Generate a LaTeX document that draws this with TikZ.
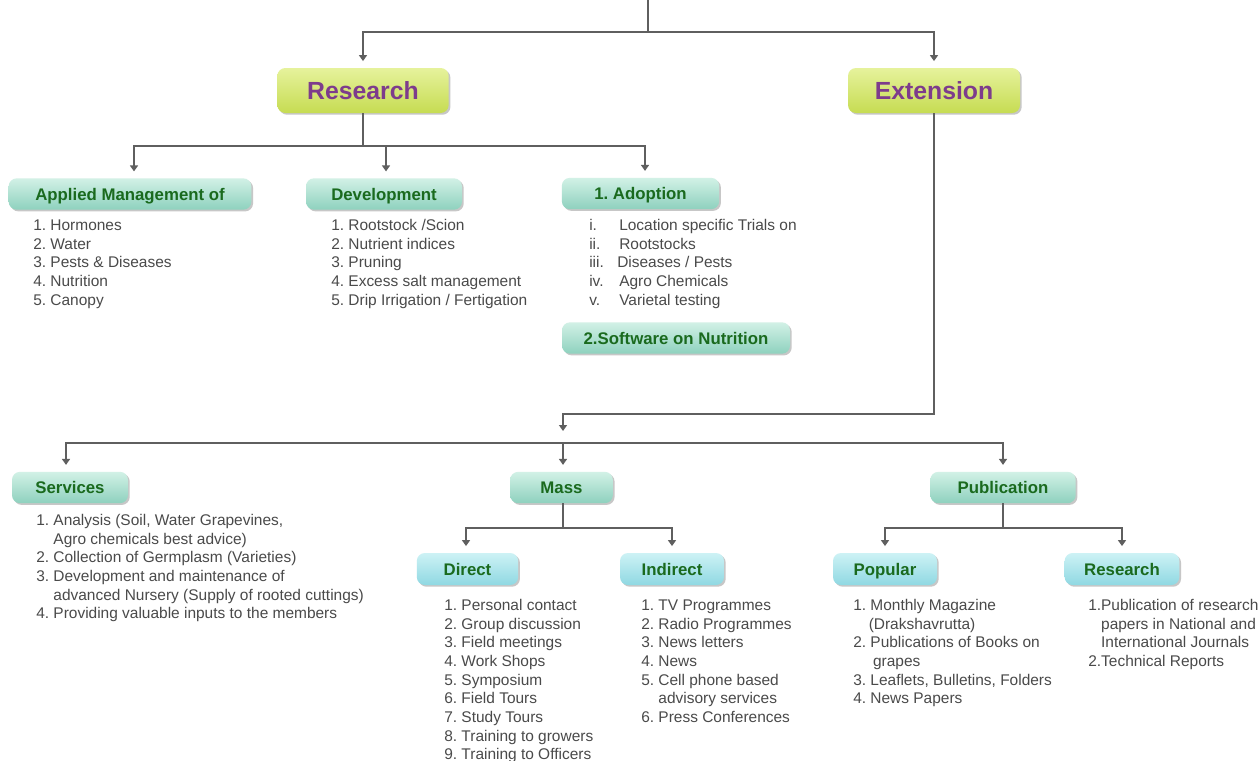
\documentclass[tikz,border=0pt]{standalone}
\usepackage{fontspec}
\setmainfont{Liberation Sans}
\usetikzlibrary{arrows.meta,shadows,calc}
\definecolor{linec}{HTML}{5F5F5F}
\definecolor{txtc}{HTML}{4A4A4A}
\definecolor{grn}{HTML}{1A6A1E}
\definecolor{purp}{HTML}{7D3C8C}
\definecolor{tealT}{HTML}{D2F1E6}
\definecolor{tealB}{HTML}{8ED1BE}
\definecolor{cyanT}{HTML}{CDF2F5}
\definecolor{cyanB}{HTML}{8FD8E2}
\definecolor{limeT}{HTML}{E6F29C}
\definecolor{limeB}{HTML}{C6DC52}
\frenchspacing
\begin{document}
\begin{tikzpicture}[x=0.75pt,y=-0.75pt,
  conn/.style={draw=linec, line width=1.1pt},
  arr/.style={conn, -{Triangle[width=6pt,length=4.5pt]}, shorten >=5pt},
  box/.style={rounded corners=6pt, inner sep=0pt, align=center, text depth=0pt,
    drop shadow={shadow xshift=1.3pt, shadow yshift=-1.3pt, fill=black!40, opacity=0.55}},
  bigbox/.style={box, top color=limeT, bottom color=limeB, text=purp, text height=13.3pt,
    minimum height=33.75pt, font=\fontsize{18.6pt}{20pt}\selectfont\bfseries},
  tealbox/.style={box, top color=tealT, bottom color=tealB, text=grn, text height=9pt,
    minimum height=23.5pt, font=\fontsize{12.6pt}{14pt}\selectfont\bfseries},
  cyanbox/.style={box, top color=cyanT, bottom color=cyanB, text=grn, text height=9pt,
    minimum height=24pt, font=\fontsize{12.6pt}{14pt}\selectfont\bfseries},
  listnode/.style={anchor=base west, inner sep=0pt, text=txtc,
    font=\fontsize{11.6pt}{14pt}\selectfont}
]
\fill[white] (0,0) rectangle (1259,760);
\useasboundingbox (0,0) rectangle (1259,760);

% main boxes
\node[bigbox, minimum width=128.5pt] (research) at (363,90.5) {Research};
\node[bigbox, minimum width=129pt] (extension) at (934,90.5) {Extension};

% research children
\node[tealbox, minimum width=182pt] (applied) at (130,194) {Applied Management of};
\node[tealbox, minimum width=117pt] (dev) at (384,194) {Development};
\node[tealbox, minimum width=118pt] (adopt) at (640.5,193.5) {1. Adoption};
\node[tealbox, minimum width=171pt] (soft) at (676,338) {2.Software on Nutrition};

% extension children
\node[tealbox, minimum width=87pt] (services) at (70,487.5) {Services};
\node[tealbox, minimum width=77pt] (mass) at (561.5,487.5) {Mass};
\node[tealbox, minimum width=109pt] (pub) at (1003,487.5) {Publication};

\node[cyanbox, minimum width=76pt] (direct) at (467.5,569) {Direct};
\node[cyanbox, minimum width=78pt] (indirect) at (672,569) {Indirect};
\node[cyanbox, minimum width=78pt] (popular) at (885,569) {Popular};
\node[cyanbox, minimum width=86pt] (research2) at (1122,569) {Research};

% connectors
\coordinate (top) at (648,0);
\coordinate (tj) at (648,32);
\draw[conn] (top) -- (tj);
\draw[arr] (tj) -| (research.north);
\draw[arr] (tj) -| (extension.north);

\coordinate (rj) at (363,146);
\draw[conn] (research.south) -- (rj);
\draw[arr] (rj) -| ($(applied.north)+(4,0)$);
\draw[arr] (rj) -| ($(dev.north)+(2,0)$);
\draw[arr] (rj) -| ($(adopt.north)+(4.5,0)$);

\coordinate (ej) at (934,414);
\coordinate (mj) at (563,443);
\draw[arr, shorten >=9pt] (extension.south) -- (ej) -| (mj);
\draw[arr] (mj) -| ($(services.north)+(-4,0)$);
\draw[arr] (mj) -- ($(mass.north)+(1.5,0)$);
\draw[arr] (mj) -| (pub.north);

\coordinate (mj2) at (563,528);
\draw[conn] ($(mass.south)+(1.5,0)$) -- (mj2);
\draw[arr] (mj2) -| ($(direct.north)+(-1.5,0)$);
\draw[arr] (mj2) -| (indirect.north);

\coordinate (pj) at (1003,528);
\draw[conn] (pub.south) -- (pj);
\draw[arr] (pj) -| (popular.north);
\draw[arr] (pj) -| (research2.north);

% lists
\node[listnode] (lapplied) at (33,230.5) {\begin{tabular}[t]{@{}l@{}}
1. Hormones\\ 2. Water\\ 3. Pests \& Diseases\\ 4. Nutrition\\ 5. Canopy
\end{tabular}};

\node[listnode] (ldev) at (331,230.5) {\begin{tabular}[t]{@{}l@{}}
1. Rootstock /Scion\\ 2. Nutrient indices\\ 3. Pruning\\ 4. Excess salt management\\ 5. Drip Irrigation / Fertigation
\end{tabular}};

\node[listnode] (ladopt) at (589,230.5) {\begin{tabular}[t]{@{}l@{}}
\makebox[22.5pt][l]{i.}Location specific Trials on\\
\makebox[22.5pt][l]{ii.}Rootstocks\\
\makebox[21pt][l]{iii.}Diseases / Pests\\
\makebox[22.5pt][l]{iv.}Agro Chemicals\\
\makebox[22.5pt][l]{v.}Varietal testing
\end{tabular}};

\node[listnode] (lserv) at (36,525.5) {\begin{tabular}[t]{@{}l@{}}
1. Analysis (Soil, Water Grapevines,\\
\hphantom{1. }Agro chemicals best advice)\\
2. Collection of Germplasm (Varieties)\\
3. Development and maintenance of\\
\hphantom{3. }advanced Nursery (Supply of rooted cuttings)\\
4. Providing valuable inputs to the members
\end{tabular}};

\node[listnode] (ldirect) at (444,610.5) {\begin{tabular}[t]{@{}l@{}}
1. Personal contact\\ 2. Group discussion\\ 3. Field meetings\\ 4. Work Shops\\
5. Symposium\\ 6. Field Tours\\ 7. Study Tours\\ 8. Training to growers\\ 9. Training to Officers
\end{tabular}};

\node[listnode] (lindirect) at (641,610.5) {\begin{tabular}[t]{@{}l@{}}
1. TV Programmes\\ 2. Radio Programmes\\ 3. News letters\\ 4. News\\
5. Cell phone based\\ \hphantom{5. }advisory services\\ 6. Press Conferences
\end{tabular}};

\node[listnode] (lpopular) at (853,610.5) {\begin{tabular}[t]{@{}l@{}}
1. Monthly Magazine\\ \hphantom{1.\,}(Drakshavrutta)\\
2. Publications of Books on\\ \hphantom{2. }\hspace{2pt}grapes\\
3. Leaflets, Bulletins, Folders\\ 4. News Papers
\end{tabular}};

\node[listnode] (lresearch) at (1088,610.5) {\begin{tabular}[t]{@{}l@{}}
1.Publication of research\\ \hphantom{1.}papers in National and\\
\hphantom{1.}International Journals\\ 2.Technical Reports
\end{tabular}};
\end{tikzpicture}
\end{document}
